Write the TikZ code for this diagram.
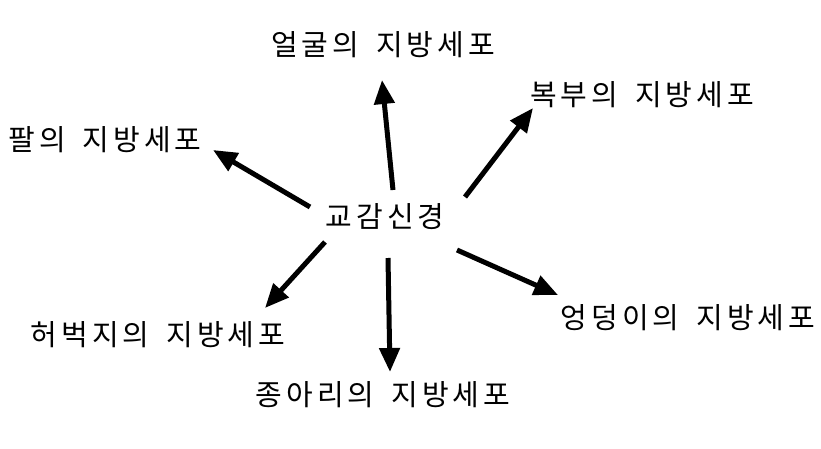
\documentclass[tikz,border=0pt]{standalone}
\usepackage{fontspec}
\setmainfont{Noto Sans CJK KR}[LetterSpace=14,WordSpace=1.6]
\usetikzlibrary{arrows.meta}
\begin{document}
\begin{tikzpicture}[x=1pt,y=-1pt,
  lbl/.style={font=\fontsize{29}{32}\selectfont, inner sep=0pt},
  arr/.style={line width=5pt, -{Triangle[length=24pt,width=20pt]}}]
\useasboundingbox (0,0) rectangle (821,449);
\node[lbl] (c) at (385,217) {교감신경};
\node[lbl] (face) at (383,45) {얼굴의 지방세포};
\node[lbl] (belly) at (642,95) {복부의 지방세포};
\node[lbl] (arm) at (105,140) {팔의 지방세포};
\node[lbl] (hip) at (688,318) {엉덩이의 지방세포};
\node[lbl] (thigh) at (158,335) {허벅지의 지방세포};
\node[lbl] (calf) at (383,395) {종아리의 지방세포};
\coordinate (s1) at (393,190); \coordinate (e1) at (382,80);
\coordinate (s2) at (465,197); \coordinate (e2) at (533,108);
\coordinate (s3) at (310,207); \coordinate (e3) at (213,150);
\coordinate (s4) at (457,250); \coordinate (e4) at (558,295);
\coordinate (s5) at (325,242); \coordinate (e5) at (265,308);
\coordinate (s6) at (388,258); \coordinate (e6) at (390,372);
\foreach \i in {1,...,6} \draw[arr] (s\i) -- (e\i);
\end{tikzpicture}
\end{document}
